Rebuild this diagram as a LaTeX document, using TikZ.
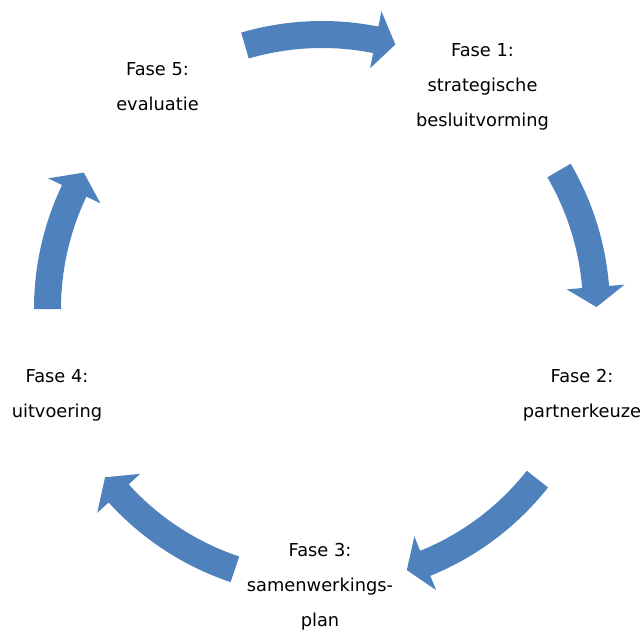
\documentclass[tikz,border=0pt]{standalone}
\usepackage{fontspec}
\setmainfont{DejaVu Sans}
\definecolor{pijlblauw}{HTML}{4F81BD}

\begin{document}
\begin{tikzpicture}[x=1pt,y=1pt,
    fase/.style={align=center,font=\fontsize{17.8}{35}\selectfont},
    pijl/.style={fill=pijlblauw}]
  \useasboundingbox (-322,-323) rectangle (322,309);
  % vijf gebogen pijlen rond het midden
  \fill[pijl] (106.3:288pt) arc[start angle=106.3,end angle=78.7,radius=288pt] -- (78.7:303.5pt) -- (74.5:274.5pt) -- (78.7:245.5pt) -- (78.7:261pt) arc[start angle=78.7,end angle=106.3,radius=261pt] -- cycle;
  \fill[pijl] (30.3:288pt) arc[start angle=30.3,end angle=4.6,radius=288pt] -- (4.6:303.5pt) -- (0.4:274.5pt) -- (4.6:245.5pt) -- (4.6:261pt) arc[start angle=4.6,end angle=30.3,radius=261pt] -- cycle;
  \fill[pijl] (-38.3:288pt) arc[start angle=-38.3,end angle=-67.9,radius=288pt] -- (-67.9:303.5pt) -- (-72:274.5pt) -- (-67.9:245.5pt) -- (-67.9:261pt) arc[start angle=-67.9,end angle=-38.3,radius=261pt] -- cycle;
  \fill[pijl] (-108.5:288pt) arc[start angle=-108.5,end angle=-137.8,radius=288pt] -- (-137.8:303.5pt) -- (-142.2:274.5pt) -- (-137.8:245.5pt) -- (-137.8:261pt) arc[start angle=-137.8,end angle=-108.5,radius=261pt] -- cycle;
  \fill[pijl] (180:288pt) arc[start angle=180,end angle=154.5,radius=288pt] -- (154.5:303.5pt) -- (150.2:274.5pt) -- (154.5:245.5pt) -- (154.5:261pt) arc[start angle=154.5,end angle=180,radius=261pt] -- cycle;
  % fasen
  \node[fase] (fase1) at (160.5,222) {Fase 1:\\strategische\\besluitvorming};
  \node[fase] (fase2) at (260,-86.5) {Fase 2:\\partnerkeuze};
  \node[fase] (fase3) at (-2,-278) {Fase 3:\\samenwerkings-\\plan};
  \node[fase] (fase4) at (-265,-86.5) {Fase 4:\\uitvoering};
  \node[fase] (fase5) at (-164.5,222) {Fase 5:\\evaluatie};
\end{tikzpicture}
\end{document}
